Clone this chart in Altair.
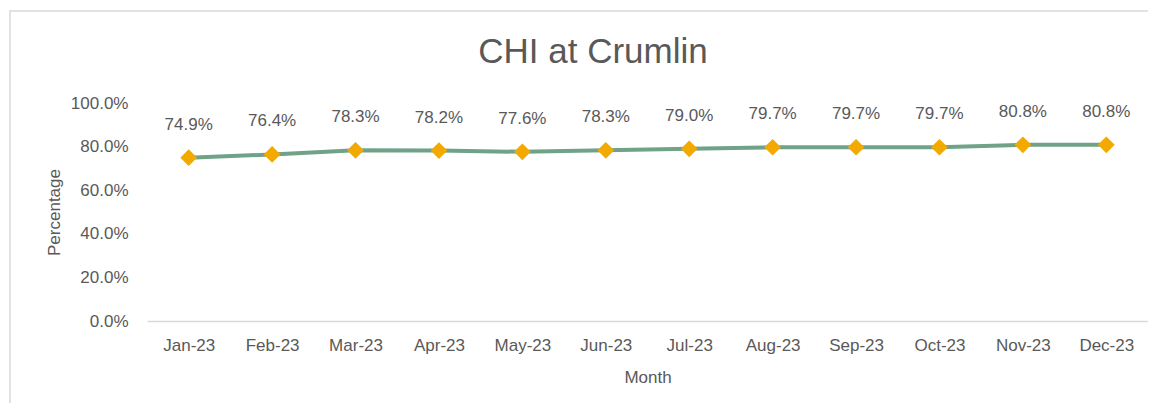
import altair as alt
import pandas as pd

months = ["Jan-23", "Feb-23", "Mar-23", "Apr-23", "May-23", "Jun-23",
          "Jul-23", "Aug-23", "Sep-23", "Oct-23", "Nov-23", "Dec-23"]
values = [0.749, 0.764, 0.783, 0.782, 0.776, 0.783,
          0.790, 0.797, 0.797, 0.797, 0.808, 0.808]
y_ticks = [0.0, 0.2, 0.4, 0.6, 0.8, 1.0]
title_text = "CHI at Crumlin"

df = pd.DataFrame({"Month": months, "Percentage": values})

FONT = "Liberation Sans"
GREY = "#595959"

x_enc = alt.X("Month:N", sort=months,
              scale=alt.Scale(paddingOuter=0.5, paddingInner=0),
              axis=alt.Axis(title="Month", labelAngle=0, ticks=False,
                            domainColor="#D9D9D9", domainWidth=1.5,
                            labelPadding=16, labelFontSize=17,
                            labelColor=GREY, labelFont=FONT,
                            titleFont=FONT, titleFontSize=17, titleColor=GREY,
                            titleFontWeight="normal",
                            titleY=56, titleBaseline="middle"))
y_enc = alt.Y("Percentage:Q", scale=alt.Scale(domain=[0, 1], nice=False),
              axis=alt.Axis(title="Percentage", format=".1%", values=y_ticks,
                            ticks=False, domain=False, grid=False,
                            labelPadding=19, labelFontSize=17,
                            labelColor=GREY, labelFont=FONT,
                            titleFont=FONT, titleFontSize=17, titleColor=GREY,
                            titleFontWeight="normal",
                            titleX=-93, titleY=109, titleBaseline="middle"))

base = alt.Chart(df)

line = base.mark_line(color="#6FA287", strokeWidth=4).encode(x=x_enc, y=y_enc)
points = base.mark_point(shape="diamond", filled=True, color="#F2A900",
                         size=280, opacity=1).encode(x=x_enc, y=y_enc)
labels = base.mark_text(dy=-33, fontSize=17, font=FONT, color=GREY,
                        baseline="middle").encode(
    x=x_enc, y=y_enc, text=alt.Text("Percentage:Q", format=".1%"))

border_df = pd.DataFrame({"k": [0]})
border = alt.Chart(border_df).mark_rect(fill="white", fillOpacity=0,
                                         stroke="#D9D9D9", strokeWidth=1.5).encode(
    x=alt.value(-137), x2=alt.value(1030), y=alt.value(-92), y2=alt.value(330))

title_df = pd.DataFrame({"t": [title_text]})
title = alt.Chart(title_df).mark_text(fontSize=35, font=FONT, color=GREY,
                                      baseline="middle", align="center").encode(
    x=alt.value(446), y=alt.value(-51), text="t:N")

chart = alt.layer(border, title, line, points, labels).properties(
    width=1001, height=218,
    autosize=alt.AutoSizeParams(type="none"),
    padding={"left": 139, "top": 95, "right": 0, "bottom": 82},
).configure_view(stroke=None)

chart.save("out.html", embed_options={"renderer": "svg", "actions": False})
